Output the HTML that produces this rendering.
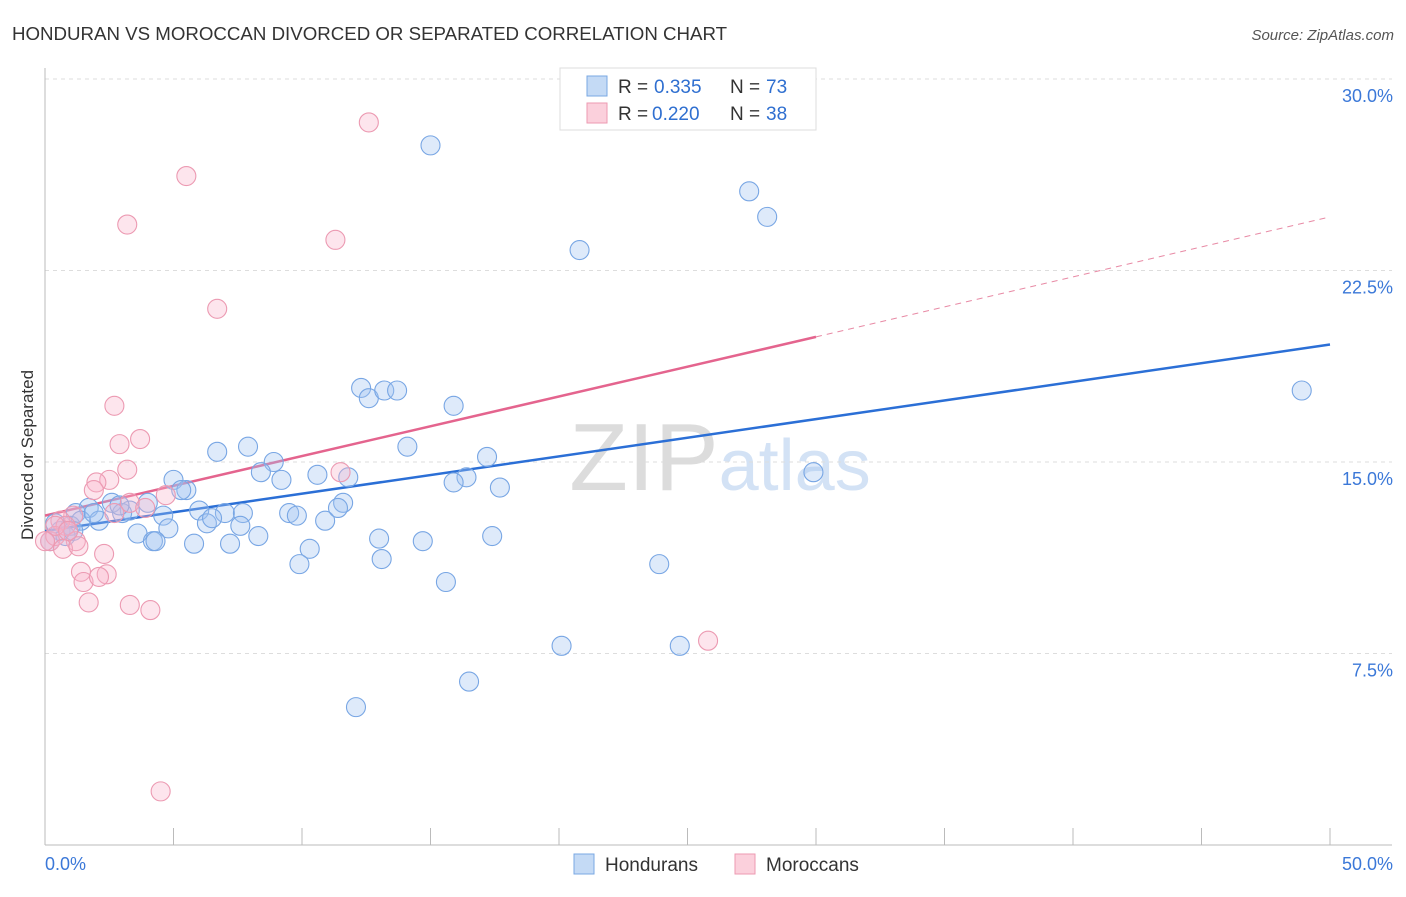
<!DOCTYPE html>
<html><head><meta charset="utf-8"><style>
body{margin:0;background:#fff;font-family:"Liberation Sans",sans-serif}
svg text{font-family:"Liberation Sans",sans-serif}
</style></head><body>
<svg id="chart" width="1406" height="892" xmlns="http://www.w3.org/2000/svg">
<text x="12" y="40" font-size="18.7" fill="#333">HONDURAN VS MOROCCAN DIVORCED OR SEPARATED CORRELATION CHART</text>
<text x="1394" y="40" font-size="15" fill="#555" text-anchor="end" font-style="italic">Source: ZipAtlas.com</text>
<text x="720" y="490" font-size="96" text-anchor="middle" fill="#ddd" font-family="Liberation Serif"><tspan fill="#dcdcdc">ZIP</tspan><tspan fill="#d3e2f5" font-family="Liberation Sans" font-size="72">atlas</tspan></text>
<g id="grid"></g><g id="axes"></g><g id="trend"></g><g id="pts"></g>
<text transform="translate(33,455) rotate(-90)" font-size="17" fill="#333" text-anchor="middle">Divorced or Separated</text>
<g>
<rect x="560" y="68" width="256" height="62" fill="#fff" stroke="#ddd"/>
<rect x="587" y="76" width="20" height="20" fill="#c4daf5" stroke="#7aa8e3"/>
<rect x="587" y="103" width="20" height="20" fill="#fbd0dc" stroke="#ec9ab2"/>
<text x="618" y="93" font-size="19" fill="#333">R =</text><text x="654" y="93" font-size="19" fill="#2f6fd0">0.335</text>
<text x="730" y="93" font-size="19" fill="#333">N =</text><text x="766" y="93" font-size="19" fill="#2f6fd0">73</text>
<text x="618" y="120" font-size="19" fill="#333">R =</text><text x="652" y="120" font-size="19" fill="#2f6fd0">0.220</text>
<text x="730" y="120" font-size="19" fill="#333">N =</text><text x="766" y="120" font-size="19" fill="#2f6fd0">38</text>
</g>
<g>
<rect x="574" y="854" width="20" height="20" fill="#c4daf5" stroke="#7aa8e3"/>
<text x="605" y="871" font-size="19" fill="#333">Hondurans</text>
<rect x="735" y="854" width="20" height="20" fill="#fbd0dc" stroke="#ec9ab2"/>
<text x="766" y="871" font-size="19" fill="#333">Moroccans</text>
</g>
</svg>
<script>
const yTicks=[7.5,15,22.5,30];
const yTickLabels=["7.5%","15.0%","22.5%","30.0%"];
const xTicks=[0,5,10,15,20,25,30,35,40,45,50];
const blueX=[15.0,27.4,28.1,20.8,48.9,12.3,12.6,13.2,13.7,15.9,6.7,7.9,14.1,17.2,8.9,8.4,10.6,11.8,16.4,15.9,17.7,29.9,5.0,5.5,5.3,9.2,2.6,4.0,6.0,3.3,1.7,1.2,2.1,3.0,4.6,7.0,7.7,9.5,9.8,10.9,11.6,11.4,6.3,6.5,7.6,4.8,3.6,8.3,13.0,14.7,17.4,4.2,4.3,5.8,7.2,10.3,9.9,13.1,15.6,23.9,20.1,24.7,16.5,12.1,0.6,1.0,0.4,0.2,0.8,1.4,1.9,2.9,1.1];
const blueY=[27.4,25.6,24.6,23.3,17.8,17.9,17.5,17.8,17.8,17.2,15.4,15.6,15.6,15.2,15.0,14.6,14.5,14.4,14.4,14.2,14.0,14.6,14.3,13.9,13.9,14.3,13.4,13.4,13.1,13.1,13.2,13.0,12.7,13.0,12.9,13.0,13.0,13.0,12.9,12.7,13.4,13.2,12.6,12.8,12.5,12.4,12.2,12.1,12.0,11.9,12.1,11.9,11.9,11.8,11.8,11.6,11.0,11.2,10.3,11.0,7.8,7.8,6.4,5.4,12.3,12.5,12.6,11.9,12.1,12.7,13.0,13.3,12.3];
const pinkX=[12.6,5.5,3.2,11.3,6.7,2.7,3.7,2.9,3.2,2.5,2.0,1.9,4.7,11.5,3.3,3.9,2.7,1.1,0.6,0.8,0.2,0.4,1.2,0.7,1.3,2.3,1.4,1.5,2.4,2.1,1.7,3.3,4.1,25.8,4.5,0.4,0.9,0.0];
const pinkY=[28.3,26.2,24.3,23.7,21.0,17.2,15.9,15.7,14.7,14.3,14.2,13.9,13.7,14.6,13.4,13.2,13.0,12.9,12.7,12.5,11.9,12.1,11.9,11.6,11.7,11.4,10.7,10.3,10.6,10.5,9.5,9.4,9.2,8.0,2.1,12.5,12.3,11.9];
const blueTrend=[12.3,19.6];
const pinkTrend=[12.9,19.9,24.6];
const NS="http://www.w3.org/2000/svg";
const X=v=>45+v/50*1285, Y=v=>845-v/7.5*191.5;
function mk(tag,attrs,parent){const e=document.createElementNS(NS,tag);for(const k in attrs)e.setAttribute(k,attrs[k]);document.getElementById(parent).appendChild(e);return e;}
yTicks.forEach((t,i)=>{
 const l=mk('line',{x1:45,x2:1392,y1:Y(t),y2:Y(t),stroke:'#ddd','stroke-dasharray':'4,4'},'grid');
 
 
 const tx=mk('text',{x:1393,y:Y(t)+23,'font-size':18,fill:'#3b78d8','text-anchor':'end'},'grid');
 tx.textContent=yTickLabels[i];
 
 
});
const ax=mk('line',{x1:45,x2:45,y1:68,y2:845,stroke:'#bbb'},'axes');


const bx=mk('line',{x1:45,x2:1392,y1:845,y2:845,stroke:'#bbb'},'axes');


xTicks.forEach(t=>{const l=mk('line',{x1:X(t),x2:X(t),y1:828,y2:845,stroke:'#bbb'},'axes');
 
 });
[[0,'start','0.0%'],[50,'end','50.0%']].forEach(a=>{const t=mk('text',{x:X(a[0])+(a[0]?63:0),y:870,'font-size':18,fill:'#3b78d8','text-anchor':a[1]},'axes');t.textContent=a[2];
 
 });
const bt=mk('line',{x1:X(0),y1:Y(blueTrend[0]),x2:X(50),y2:Y(blueTrend[1]),stroke:'#2b6fd6','stroke-width':2.5},'trend');


const pt=mk('line',{x1:X(0),y1:Y(pinkTrend[0]),x2:X(30),y2:Y(pinkTrend[1]),stroke:'#e4648e','stroke-width':2.5},'trend');


const pd=mk('line',{x1:X(30),y1:Y(pinkTrend[1]),x2:X(50),y2:Y(pinkTrend[2]),stroke:'#e88aa5','stroke-width':1,'stroke-dasharray':'6,5'},'trend');


blueX.forEach((v,i)=>{const c=mk('circle',{cx:X(v),cy:Y(blueY[i]),r:9.5,fill:'rgba(160,196,240,0.35)',stroke:'#78a6e4','stroke-width':1.1},'pts');
 
 });
pinkX.forEach((v,i)=>{const c=mk('circle',{cx:X(v),cy:Y(pinkY[i]),r:9.5,fill:'rgba(248,180,202,0.35)',stroke:'#ec9ab2','stroke-width':1.1},'pts');
 
 });
</script>
</body></html>
